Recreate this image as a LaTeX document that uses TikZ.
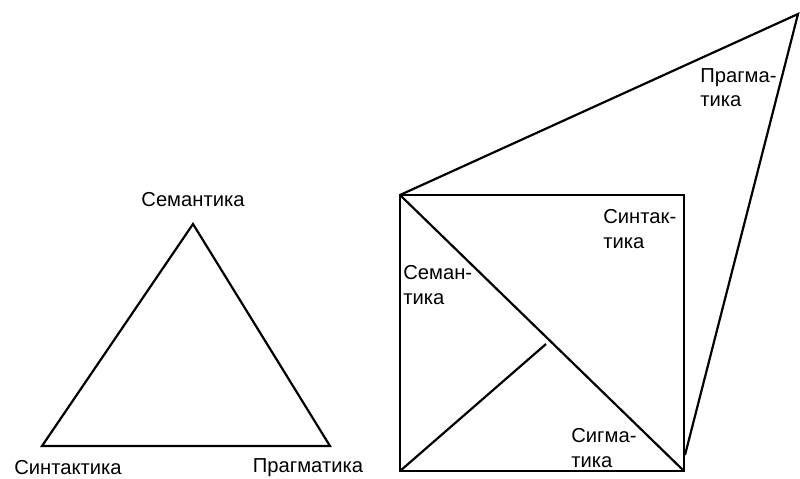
\documentclass[tikz,border=0pt]{standalone}
\usepackage{fontspec}
\setmainfont{Liberation Sans}
\usetikzlibrary{positioning, calc}

\begin{document}
\begin{tikzpicture}[x=0.02cm, y=-0.02cm, line join=miter,
		edge/.style={line width=1.25pt, black},
		lbl/.style={font=\fontsize{11.5}{14}\selectfont, inner sep=0pt},
		lblblock/.style={lbl, align=left, anchor=north west}]
	
	\useasboundingbox (0, 0) rectangle (800, 478);
	
	% Left triangle
	\coordinate (sem) at (193, 224);
	\coordinate (syn) at (42, 446);
	\coordinate (prag) at (330, 446);
	\draw[edge] (sem) -- (syn) -- (prag) -- cycle;
	
	\node[lbl] (semL) at (193, 200) {Семантика};
	\node[lbl] (synL) at (68, 468) {Синтактика};
	\node[lbl] (pragL) at (308, 468) {Прагматика};
	
	% Right figure: square with diagonals
	\coordinate (tl) at (400, 195);
	\coordinate (tr) at (684, 195);
	\coordinate (br) at (684, 471);
	\coordinate (bl) at (400, 471);
	\coordinate (mid) at (546, 344);
	\coordinate (top) at (798, 14);
	\coordinate (rt) at (685, 455);
	
	\draw[edge] (tl) -- (tr) -- (br) -- (bl) -- cycle;
	\draw[edge] (tl) -- (br);
	\draw[edge] (bl) -- (mid);
	\draw[edge] (tl) -- (top) -- (rt);
	
	\node[lblblock] (pragB) at (700, 68) {Прагма-\\тика};
	\node[lblblock] (synB) at (603, 209) {Синтак-\\тика};
	\node[lblblock] (semB) at (403, 265) {Семан-\\тика};
	\node[lblblock] (sigB) at (571, 428) {Сигма-\\тика};
	
\end{tikzpicture}
\end{document}
